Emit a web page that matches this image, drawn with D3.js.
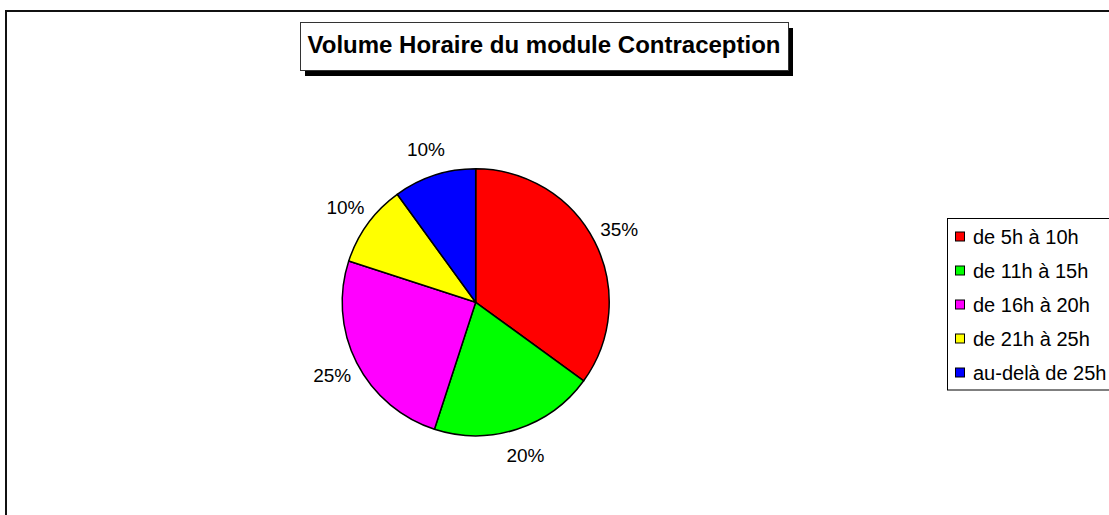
<!DOCTYPE html>
<html>
<head>
<meta charset="utf-8">
<script src="https://cdn.jsdelivr.net/npm/d3@7"></script>
<style>
    body { margin: 0; background: #fff; }
    svg { display: block; font-family: Arial, 'Liberation Sans', sans-serif; }
</style>
</head>
<body>
<svg id="chart"></svg>
<script>
const title = 'Volume Horaire du module Contraception'
const categories = ['de 5h à 10h', 'de 11h à 15h', 'de 16h à 20h', 'de 21h à 25h', 'au-delà de 25h']
const values = [35, 20, 25, 10, 10]
const colors = ['#ff0000', '#00ff00', '#ff00ff', '#ffff00', '#0000ff']

const width = 1109, height = 515

const svg = d3.select('#chart')
    .attr('width', width)
    .attr('height', height)

// chart area border, runs off the right and bottom edges
svg.append('rect')
    .attr('x', 6).attr('y', 11)
    .attr('width', width + 20).attr('height', height + 20)
    .attr('fill', 'none')
    .attr('stroke', '#111')
    .attr('stroke-width', 2)

// title with drop shadow
const titleBox = {x: 300, y: 22, w: 488, h: 48}
svg.append('rect')
    .attr('x', titleBox.x + 5).attr('y', titleBox.y + 6)
    .attr('width', titleBox.w).attr('height', titleBox.h)
    .attr('fill', '#000')
svg.append('rect')
    .attr('x', titleBox.x + .5).attr('y', titleBox.y + .5)
    .attr('width', titleBox.w).attr('height', titleBox.h)
    .attr('fill', '#fff')
    .attr('stroke', '#333')
    .attr('stroke-width', 1)
svg.append('text')
    .attr('x', titleBox.x + titleBox.w / 2)
    .attr('y', 52.5)
    .attr('text-anchor', 'middle')
    .attr('font-size', 24)
    .attr('font-weight', 'bold')
    .text(title)

// pie
const cx = 475.7, cy = 302.3, radius = 133.5
const pie = d3.pie().sort(null).value(d => d)
const arcs = pie(values)
const arc = d3.arc().innerRadius(0).outerRadius(radius)
const labelArc = d3.arc().innerRadius(161).outerRadius(161)
const total = d3.sum(values)

const g = svg.append('g').attr('transform', `translate(${cx}, ${cy})`)
g.selectAll('path.slice').data(arcs)
    .enter().append('path')
    .classed('slice', true)
    .attr('d', arc)
    .attr('fill', (d, i) => colors[i])
    .attr('stroke', '#000')
    .attr('stroke-width', 1.5)
    .attr('stroke-linejoin', 'round')

g.selectAll('text.label').data(arcs)
    .enter().append('text')
    .classed('label', true)
    .attr('transform', d => `translate(${labelArc.centroid(d)})`)
    .attr('text-anchor', 'middle')
    .attr('dy', '0.35em')
    .attr('font-size', 19)
    .text(d => Math.round(d.value / total * 100) + '%')

// legend
const legend = {x: 947, y: 218, step: 34, first: 236.5}
svg.append('rect')
    .attr('x', legend.x + .5).attr('y', legend.y + .5)
    .attr('width', 200)
    .attr('height', legend.first - legend.y + legend.step * (categories.length - 1) + 17)
    .attr('fill', '#fff')
    .attr('stroke', '#000')
    .attr('stroke-width', 1)

const item = svg.selectAll('g.item').data(categories)
    .enter().append('g')
    .classed('item', true)
    .attr('transform', (d, i) => `translate(${legend.x}, ${legend.first + i * legend.step})`)
item.append('rect')
    .attr('x', 8.5).attr('y', -4.5)
    .attr('width', 9).attr('height', 9)
    .attr('fill', (d, i) => colors[i])
    .attr('stroke', '#000')
    .attr('stroke-width', 1)
item.append('text')
    .attr('x', 26)
    .attr('dy', '0.35em')
    .attr('font-size', 20)
    .text(d => d)
</script>
</body>
</html>
